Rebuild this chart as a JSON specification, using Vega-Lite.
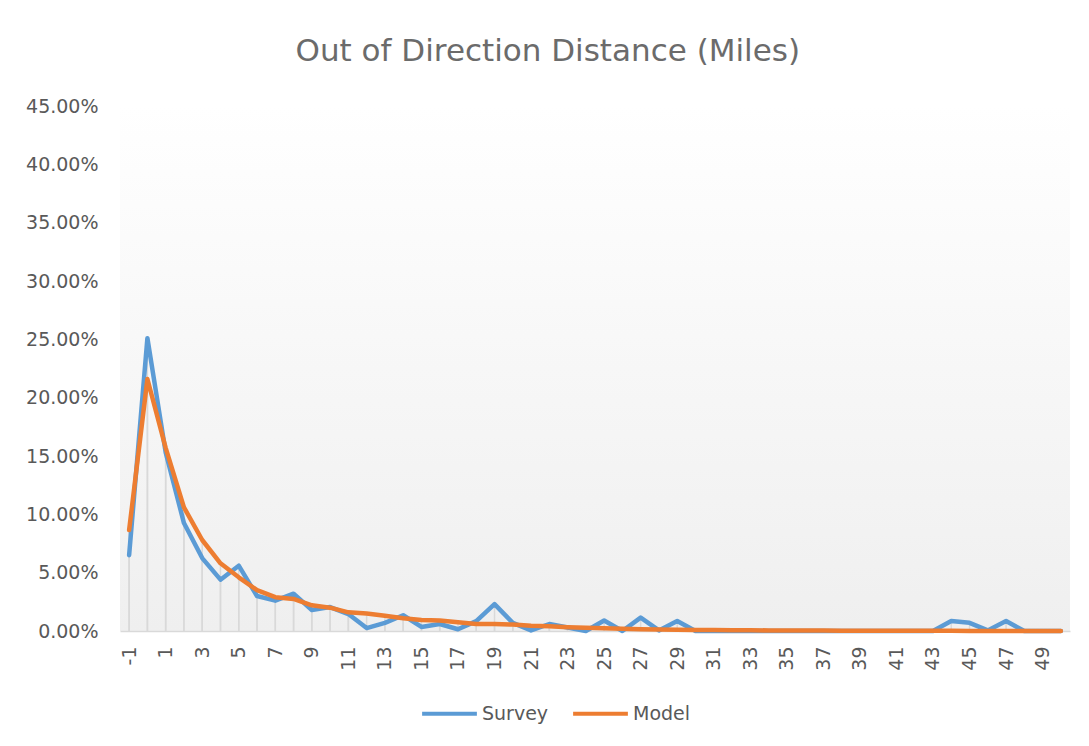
{
  "$schema": "https://vega.github.io/schema/vega-lite/v6.json",
  "width": 950,
  "height": 525,
  "autosize": "none",
  "padding": {"left": 120, "top": 106, "right": 19, "bottom": 115},
  "background": "#ffffff",
  "title": {
    "text": "Out of Direction Distance (Miles)",
    "fontSize": 31,
    "font": "DejaVu Sans",
    "fontWeight": "normal",
    "color": "#6b6b6b",
    "anchor": "middle",
    "frame": "bounds",
    "offset": 29
  },
  "data": {
    "values": [
      {"d": -1, "Survey": 0.065, "Model": 0.0865},
      {"d": 0, "Survey": 0.251, "Model": 0.216},
      {"d": 1, "Survey": 0.153, "Model": 0.157},
      {"d": 2, "Survey": 0.0925, "Model": 0.106},
      {"d": 3, "Survey": 0.0625, "Model": 0.078},
      {"d": 4, "Survey": 0.044, "Model": 0.058},
      {"d": 5, "Survey": 0.056, "Model": 0.046},
      {"d": 6, "Survey": 0.030, "Model": 0.035},
      {"d": 7, "Survey": 0.026, "Model": 0.029},
      {"d": 8, "Survey": 0.032, "Model": 0.0275},
      {"d": 9, "Survey": 0.018, "Model": 0.022},
      {"d": 10, "Survey": 0.0205, "Model": 0.020},
      {"d": 11, "Survey": 0.0145, "Model": 0.016},
      {"d": 12, "Survey": 0.0025, "Model": 0.015},
      {"d": 13, "Survey": 0.007, "Model": 0.013},
      {"d": 14, "Survey": 0.0135, "Model": 0.011},
      {"d": 15, "Survey": 0.0035, "Model": 0.0095},
      {"d": 16, "Survey": 0.006, "Model": 0.009},
      {"d": 17, "Survey": 0.0015, "Model": 0.0075},
      {"d": 18, "Survey": 0.0085, "Model": 0.006},
      {"d": 19, "Survey": 0.023, "Model": 0.006},
      {"d": 20, "Survey": 0.007, "Model": 0.0055},
      {"d": 21, "Survey": 0.0005, "Model": 0.0045},
      {"d": 22, "Survey": 0.006, "Model": 0.004},
      {"d": 23, "Survey": 0.003, "Model": 0.0033},
      {"d": 24, "Survey": 0.0, "Model": 0.0028},
      {"d": 25, "Survey": 0.009, "Model": 0.0023},
      {"d": 26, "Survey": 0.0, "Model": 0.002},
      {"d": 27, "Survey": 0.0115, "Model": 0.0015},
      {"d": 28, "Survey": 0.0005, "Model": 0.0012},
      {"d": 29, "Survey": 0.0085, "Model": 0.001},
      {"d": 30, "Survey": 0.0, "Model": 0.0009},
      {"d": 31, "Survey": 0.0, "Model": 0.0008},
      {"d": 32, "Survey": 0.0, "Model": 0.0007},
      {"d": 33, "Survey": 0.0, "Model": 0.0006},
      {"d": 34, "Survey": 0.0, "Model": 0.0005},
      {"d": 35, "Survey": 0.0, "Model": 0.0005},
      {"d": 36, "Survey": 0.0, "Model": 0.0004},
      {"d": 37, "Survey": 0.0, "Model": 0.0004},
      {"d": 38, "Survey": 0.0, "Model": 0.0003},
      {"d": 39, "Survey": 0.0, "Model": 0.0003},
      {"d": 40, "Survey": 0.0, "Model": 0.0003},
      {"d": 41, "Survey": 0.0, "Model": 0.0002},
      {"d": 42, "Survey": 0.0, "Model": 0.0002},
      {"d": 43, "Survey": 0.0, "Model": 0.0002},
      {"d": 44, "Survey": 0.0085, "Model": 0.0002},
      {"d": 45, "Survey": 0.007, "Model": 0.0001},
      {"d": 46, "Survey": 0.0005, "Model": 0.0001},
      {"d": 47, "Survey": 0.0085, "Model": 0.0001},
      {"d": 48, "Survey": 0.0, "Model": 0.0001},
      {"d": 49, "Survey": 0.0, "Model": 0.0001},
      {"d": 50, "Survey": 0.0, "Model": 0.0001}
    ]
  },
  "encoding": {
    "x": {
      "field": "d",
      "type": "ordinal",
      "scale": {"type": "point", "padding": 0.5},
      "axis": {
        "title": null,
        "values": [-1, 1, 3, 5, 7, 9, 11, 13, 15, 17, 19, 21, 23, 25, 27, 29, 31, 33, 35, 37, 39, 41, 43, 45, 47, 49],
        "labelAngle": 270,
        "labelPadding": 15,
        "ticks": false,
        "grid": false,
        "domainColor": "#d9d9d9",
        "domainWidth": 1.5,
        "labelFontSize": 19,
        "labelFont": "DejaVu Sans",
        "labelColor": "#595959"
      }
    }
  },
  "layer": [
    {
      "mark": {"type": "rule", "color": "#d9d9d9", "strokeWidth": 1.5},
      "encoding": {
        "y": {"field": "Survey", "type": "quantitative", "scale": {"domain": [0, 0.45]}},
        "y2": {"datum": 0}
      }
    },
    {
      "mark": {"type": "rule", "color": "#d9d9d9", "strokeWidth": 1.5},
      "encoding": {
        "y": {"field": "Model", "type": "quantitative"},
        "y2": {"datum": 0}
      }
    },
    {
      "mark": {"type": "line", "strokeWidth": 4.5, "strokeJoin": "round", "strokeCap": "round"},
      "encoding": {
        "y": {
          "field": "Survey",
          "type": "quantitative",
          "scale": {"domain": [0, 0.45], "nice": false},
          "axis": {
            "title": null,
            "values": [0, 0.05, 0.1, 0.15, 0.2, 0.25, 0.3, 0.35, 0.4, 0.45],
            "format": ".2%",
            "domain": false,
            "ticks": false,
            "grid": false,
            "labelPadding": 22,
            "labelFontSize": 19,
            "labelFont": "DejaVu Sans",
            "labelColor": "#595959"
          }
        },
        "color": {"datum": "Survey"}
      }
    },
    {
      "mark": {"type": "line", "strokeWidth": 4.5, "strokeJoin": "round", "strokeCap": "round"},
      "encoding": {
        "y": {"field": "Model", "type": "quantitative"},
        "color": {"datum": "Model"}
      }
    }
  ],
  "resolve": {"scale": {"y": "shared"}},
  "config": {
    "view": {
      "stroke": null,
      "fill": {
        "gradient": "linear",
        "x1": 0, "y1": 0, "x2": 0, "y2": 1,
        "stops": [
          {"offset": 0, "color": "#ffffff"},
          {"offset": 1, "color": "#efefef"}
        ]
      }
    },
    "range": {"category": ["#5B9BD5", "#ED7D31"]},
    "legend": {
      "orient": "none",
      "legendX": 300,
      "legendY": 578,
      "padding": 0,
      "direction": "horizontal",
      "title": null,
      "symbolType": "stroke",
      "symbolSize": 3000,
      "symbolStrokeWidth": 4,
      "labelFontSize": 19,
      "labelFont": "DejaVu Sans",
      "labelColor": "#595959",
      "columnPadding": 16,
      "labelOffset": 3
    }
  }
}
